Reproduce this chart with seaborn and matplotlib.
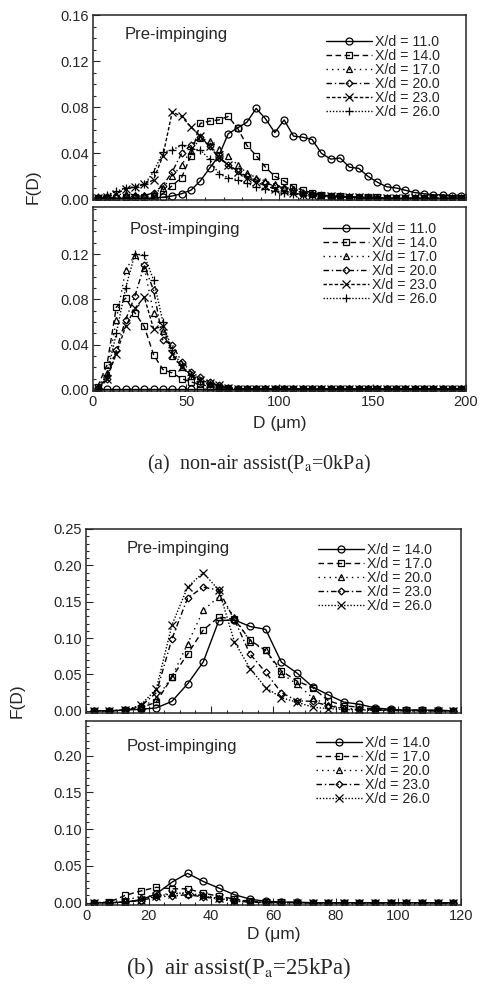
import numpy as np
import pandas as pd
import matplotlib
matplotlib.use("Agg")
import matplotlib.pyplot as plt
from matplotlib.ticker import MultipleLocator, FixedLocator, FormatStrFormatter
import seaborn as sns

sns.set_style("ticks")
plt.rcParams['font.family'] = ['Liberation Sans', 'DejaVu Sans']
plt.rcParams['mathtext.fontset'] = 'stix'

# ---------------- data: (a) non-air assist, D bins 2.5..197.5 um ----------------
D_a = [2.5, 7.5, 12.5, 17.5, 22.5, 27.5, 32.5, 37.5, 42.5, 47.5,
       52.5, 57.5, 62.5, 67.5, 72.5, 77.5, 82.5, 87.5, 92.5, 97.5,
       102.5, 107.5, 112.5, 117.5, 122.5, 127.5, 132.5, 137.5, 142.5, 147.5,
       152.5, 157.5, 162.5, 167.5, 172.5, 177.5, 182.5, 187.5, 192.5, 197.5]
labels_a = ["X/d = 11.0", "X/d = 14.0", "X/d = 17.0", "X/d = 20.0", "X/d = 23.0", "X/d = 26.0"]

pre_a_11 = [0.001, 0.001, 0.001, 0.001, 0.001, 0.001, 0.001, 0.002, 0.003, 0.005,
            0.008, 0.016, 0.027, 0.038, 0.057, 0.062, 0.067, 0.079, 0.070, 0.058,
            0.069, 0.055, 0.054, 0.052, 0.040, 0.035, 0.036, 0.028, 0.027, 0.020,
            0.015, 0.011, 0.010, 0.008, 0.006, 0.005, 0.004, 0.004, 0.003, 0.003]
pre_a_14 = [0.001, 0.001, 0.001, 0.002, 0.002, 0.002, 0.003, 0.005, 0.012, 0.019,
            0.038, 0.066, 0.068, 0.069, 0.072, 0.062, 0.047, 0.038, 0.028, 0.020,
            0.016, 0.011, 0.008, 0.006, 0.004, 0.003, 0.003, 0.002, 0.002, 0.002,
            0.002, 0.001, 0.001, 0.001, 0.001, 0.001, 0.001, 0.001, 0.001, 0.001]
pre_a_17 = [0.002, 0.003, 0.004, 0.005, 0.004, 0.004, 0.005, 0.010, 0.020, 0.030,
            0.042, 0.053, 0.051, 0.044, 0.038, 0.030, 0.023, 0.019, 0.016, 0.013,
            0.010, 0.008, 0.006, 0.005, 0.004, 0.003, 0.003, 0.002, 0.002, 0.002,
            0.001, 0.001, 0.001, 0.001, 0.001, 0.001, 0.001, 0.001, 0.001, 0.001]
pre_a_20 = [0.001, 0.001, 0.002, 0.002, 0.003, 0.003, 0.006, 0.012, 0.024, 0.040,
            0.047, 0.054, 0.046, 0.036, 0.030, 0.025, 0.020, 0.017, 0.014, 0.012,
            0.010, 0.008, 0.006, 0.005, 0.004, 0.003, 0.003, 0.002, 0.002, 0.002,
            0.001, 0.001, 0.001, 0.001, 0.001, 0.001, 0.001, 0.001, 0.001, 0.001]
pre_a_23 = [0.001, 0.002, 0.005, 0.009, 0.011, 0.013, 0.017, 0.038, 0.076, 0.072,
            0.063, 0.055, 0.046, 0.037, 0.030, 0.024, 0.019, 0.015, 0.012, 0.009,
            0.007, 0.006, 0.004, 0.004, 0.003, 0.003, 0.002, 0.002, 0.002, 0.001,
            0.001, 0.001, 0.001, 0.001, 0.001, 0.001, 0.001, 0.001, 0.001, 0.001]
pre_a_26 = [0.002, 0.004, 0.007, 0.010, 0.011, 0.013, 0.024, 0.041, 0.043, 0.047,
            0.044, 0.043, 0.035, 0.022, 0.019, 0.017, 0.014, 0.011, 0.009, 0.007,
            0.006, 0.005, 0.004, 0.003, 0.003, 0.002, 0.002, 0.002, 0.001, 0.001,
            0.001, 0.001, 0.001, 0.001, 0.001, 0.001, 0.001, 0.001, 0.001, 0.001]

post_a_11 = [0.001] * 40
post_a_14 = [0.003, 0.022, 0.073, 0.081, 0.068, 0.056, 0.031, 0.018, 0.015, 0.010,
             0.007, 0.005, 0.003, 0.002, 0.002, 0.001, 0.001, 0.001, 0.001, 0.001,
             0.001, 0.001, 0.001, 0.001, 0.001, 0.001, 0.001, 0.001, 0.001, 0.001,
             0.001, 0.001, 0.001, 0.001, 0.001, 0.001, 0.001, 0.001, 0.001, 0.001]
post_a_17 = [0.002, 0.015, 0.062, 0.106, 0.119, 0.108, 0.068, 0.052, 0.030, 0.020,
             0.012, 0.008, 0.005, 0.003, 0.002, 0.001, 0.001, 0.001, 0.001, 0.001,
             0.001, 0.001, 0.001, 0.001, 0.001, 0.001, 0.001, 0.001, 0.001, 0.001,
             0.001, 0.001, 0.001, 0.001, 0.001, 0.001, 0.001, 0.001, 0.001, 0.001]
post_a_20 = [0.002, 0.010, 0.035, 0.062, 0.083, 0.110, 0.088, 0.044, 0.040, 0.025,
             0.016, 0.011, 0.007, 0.004, 0.002, 0.001, 0.001, 0.001, 0.001, 0.001,
             0.001, 0.001, 0.001, 0.001, 0.001, 0.001, 0.001, 0.001, 0.001, 0.001,
             0.001, 0.001, 0.001, 0.001, 0.001, 0.001, 0.001, 0.001, 0.001, 0.001]
post_a_23 = [0.002, 0.010, 0.032, 0.056, 0.072, 0.082, 0.054, 0.056, 0.032, 0.020,
             0.013, 0.009, 0.006, 0.004, 0.002, 0.001, 0.001, 0.001, 0.001, 0.001,
             0.001, 0.001, 0.001, 0.001, 0.001, 0.001, 0.001, 0.001, 0.001, 0.001,
             0.001, 0.001, 0.001, 0.001, 0.001, 0.001, 0.001, 0.001, 0.001, 0.001]
post_a_26 = [0.002, 0.013, 0.050, 0.090, 0.120, 0.119, 0.097, 0.060, 0.035, 0.022,
             0.013, 0.008, 0.005, 0.003, 0.002, 0.001, 0.001, 0.001, 0.001, 0.001,
             0.001, 0.001, 0.001, 0.001, 0.001, 0.001, 0.001, 0.001, 0.001, 0.001,
             0.001, 0.001, 0.001, 0.001, 0.001, 0.001, 0.001, 0.001, 0.001, 0.001]

# ---------------- data: (b) air assist, D bins 2.5..117.5 um ----------------
D_b = [2.5, 7.5, 12.5, 17.5, 22.5, 27.5, 32.5, 37.5, 42.5, 47.5, 52.5, 57.5,
       62.5, 67.5, 72.5, 77.5, 82.5, 87.5, 92.5, 97.5, 102.5, 107.5, 112.5, 117.5]
labels_b = ["X/d = 14.0", "X/d = 17.0", "X/d = 20.0", "X/d = 23.0", "X/d = 26.0"]

pre_b_14 = [0.000, 0.000, 0.001, 0.002, 0.004, 0.013, 0.037, 0.067, 0.124, 0.125, 0.116, 0.112,
            0.067, 0.052, 0.033, 0.022, 0.012, 0.009, 0.004, 0.002, 0.001, 0.001, 0.001, 0.000]
pre_b_17 = [0.000, 0.000, 0.001, 0.004, 0.012, 0.046, 0.078, 0.111, 0.129, 0.126, 0.097, 0.083,
            0.055, 0.041, 0.032, 0.014, 0.007, 0.005, 0.002, 0.001, 0.001, 0.001, 0.000, 0.000]
pre_b_20 = [0.000, 0.000, 0.001, 0.005, 0.016, 0.047, 0.092, 0.138, 0.157, 0.129, 0.095, 0.083,
            0.051, 0.037, 0.018, 0.008, 0.004, 0.002, 0.001, 0.001, 0.000, 0.000, 0.000, 0.000]
pre_b_23 = [0.000, 0.000, 0.001, 0.006, 0.025, 0.099, 0.155, 0.170, 0.166, 0.125, 0.078, 0.053,
            0.025, 0.014, 0.013, 0.007, 0.003, 0.002, 0.001, 0.001, 0.000, 0.000, 0.000, 0.000]
pre_b_26 = [0.000, 0.000, 0.001, 0.008, 0.030, 0.118, 0.170, 0.190, 0.166, 0.095, 0.058, 0.032,
            0.018, 0.012, 0.005, 0.003, 0.002, 0.001, 0.001, 0.000, 0.000, 0.000, 0.000, 0.000]

post_b_14 = [0.000, 0.000, 0.001, 0.004, 0.012, 0.028, 0.040, 0.029, 0.020, 0.011, 0.005, 0.002,
             0.001, 0.001, 0.000, 0.000, 0.000, 0.000, 0.000, 0.000, 0.000, 0.000, 0.000, 0.000]
post_b_17 = [0.000, 0.001, 0.010, 0.016, 0.021, 0.019, 0.019, 0.013, 0.009, 0.005, 0.002, 0.001,
             0.001, 0.000, 0.000, 0.000, 0.000, 0.000, 0.000, 0.000, 0.000, 0.000, 0.000, 0.000]
post_b_20 = [0.000, 0.001, 0.004, 0.008, 0.010, 0.013, 0.012, 0.010, 0.007, 0.004, 0.002, 0.001,
             0.000, 0.000, 0.000, 0.000, 0.000, 0.000, 0.000, 0.000, 0.000, 0.000, 0.000, 0.000]
post_b_23 = [0.000, 0.000, 0.001, 0.003, 0.008, 0.009, 0.011, 0.008, 0.005, 0.002, 0.001, 0.000,
             0.000, 0.000, 0.000, 0.000, 0.000, 0.000, 0.000, 0.000, 0.000, 0.000, 0.000, 0.000]
post_b_26 = [0.000, 0.000, 0.001, 0.004, 0.009, 0.012, 0.014, 0.009, 0.006, 0.003, 0.001, 0.000,
             0.000, 0.000, 0.000, 0.000, 0.000, 0.000, 0.000, 0.000, 0.000, 0.000, 0.000, 0.000]

# ---------------- styles ----------------
styles_a = [("o", "-", 5.0), ("s", (0, (4, 2.5)), 5.0), ("^", (0, (1, 3)), 5.0),
            ("D", (0, (4, 2, 1, 2)), 3.5), ("x", (0, (2.5, 1.5)), 5.5), ("+", (0, (1, 1.3)), 6.0)]
styles_b = [("o", "-", 5.0), ("s", (0, (4, 2.5)), 5.0), ("^", (0, (1, 3)), 5.0),
            ("D", (0, (4, 2, 1, 2)), 3.5), ("x", (0, (1, 1.3)), 5.5)]

fig = plt.figure(figsize=(4.81, 9.84), dpi=100)

TICK_FS = 10.5
LEG_FS = 10.2
TITLE_FS = 12
LABEL_FS = 12.5
CAP_FS = 14.5


def draw(ax, D, series, labels, styles, anchor):
    for y, lab, (mk, ls, ms) in zip(series, labels, styles):
        df = pd.DataFrame({"D": D, "F": y})
        sns.lineplot(data=df, x="D", y="F", ax=ax, color="black", linewidth=1.0,
                     linestyle=ls, marker=mk, markersize=ms, markerfacecolor="none",
                     markeredgecolor="black", markeredgewidth=0.9, label=lab,
                     estimator=None, sort=False)
    ax.set_xlabel("")
    ax.set_ylabel("")
    for s in ax.spines.values():
        s.set_linewidth(1.1)
    ax.tick_params(direction="in", which="both", top=False, right=False,
                   labelsize=TICK_FS, width=0.8, pad=3)
    ax.tick_params(which="major", length=5)
    ax.tick_params(which="minor", length=2.5)
    ax.legend(loc="upper right", bbox_to_anchor=anchor, frameon=False,
              fontsize=LEG_FS, handlelength=3.2, handletextpad=0.2,
              labelspacing=0.0, borderpad=0.0)


# (a) top
ax1 = fig.add_axes([0.1933, 0.7967, 0.7755, 0.188])
draw(ax1, D_a, [pre_a_11, pre_a_14, pre_a_17, pre_a_20, pre_a_23, pre_a_26], labels_a, styles_a,
     (0.948, 0.93))
ax1.set_xlim(0, 200)
ax1.set_ylim(-0.0005, 0.16)
ax1.yaxis.set_major_locator(FixedLocator([0.0, 0.04, 0.08, 0.12, 0.16]))
ax1.yaxis.set_minor_locator(MultipleLocator(0.01))
ax1.yaxis.set_major_formatter(FormatStrFormatter("%.2f"))
ax1.xaxis.set_major_locator(MultipleLocator(50))
ax1.xaxis.set_minor_locator(MultipleLocator(10))
ax1.tick_params(labelbottom=False)
ax1.text(0.086, 0.895, "Pre-impinging", transform=ax1.transAxes, fontsize=TITLE_FS, va="center")

# (a) bottom
ax2 = fig.add_axes([0.1933, 0.6026, 0.7755, 0.187])
draw(ax2, D_a, [post_a_11, post_a_14, post_a_17, post_a_20, post_a_23, post_a_26], labels_a, styles_a,
     (0.94, 0.955))
ax2.set_xlim(0, 200)
ax2.set_ylim(-0.001, 0.1615)
ax2.yaxis.set_major_locator(FixedLocator([0.0, 0.04, 0.08, 0.12]))
ax2.yaxis.set_minor_locator(MultipleLocator(0.01))
ax2.yaxis.set_major_formatter(FormatStrFormatter("%.2f"))
ax2.xaxis.set_major_locator(MultipleLocator(50))
ax2.xaxis.set_minor_locator(MultipleLocator(10))
ax2.text(0.097, 0.876, "Post-impinging", transform=ax2.transAxes, fontsize=TITLE_FS, va="center")
ax2.set_xlabel("D (\u03bcm)", fontsize=LABEL_FS, labelpad=5)

fig.text(33 / 481, 1 - 187 / 984, "F(D)", rotation=90, fontsize=LABEL_FS, ha="center", va="center")
fig.text(259 / 481, 1 - 464 / 984, r"(a)  non-air assist(P$_\mathrm{a}$=0kPa)",
         fontsize=CAP_FS, ha="center", va="center", family=["Liberation Serif", "DejaVu Serif"])

# (b) top
ax3 = fig.add_axes([0.1788, 0.2754, 0.7796, 0.187])
draw(ax3, D_b, [pre_b_14, pre_b_17, pre_b_20, pre_b_23, pre_b_26], labels_b, styles_b,
     (0.94, 0.965))
ax3.set_xlim(0, 120)
ax3.set_ylim(-0.003, 0.25)
ax3.yaxis.set_major_locator(MultipleLocator(0.05))
ax3.yaxis.set_minor_locator(MultipleLocator(0.01))
ax3.yaxis.set_major_formatter(FormatStrFormatter("%.2f"))
ax3.xaxis.set_major_locator(MultipleLocator(20))
ax3.xaxis.set_minor_locator(MultipleLocator(5))
ax3.tick_params(labelbottom=False)
ax3.text(0.107, 0.893, "Pre-impinging", transform=ax3.transAxes, fontsize=TITLE_FS, va="center")

# (b) bottom
ax4 = fig.add_axes([0.1788, 0.0803, 0.7796, 0.187])
draw(ax4, D_b, [post_b_14, post_b_17, post_b_20, post_b_23, post_b_26], labels_b, styles_b,
     (0.935, 0.955))
ax4.set_xlim(0, 120)
ax4.set_ylim(-0.003, 0.247)
ax4.yaxis.set_major_locator(FixedLocator([0.0, 0.05, 0.10, 0.15, 0.20]))
ax4.yaxis.set_minor_locator(MultipleLocator(0.01))
ax4.yaxis.set_major_formatter(FormatStrFormatter("%.2f"))
ax4.xaxis.set_major_locator(MultipleLocator(20))
ax4.xaxis.set_minor_locator(MultipleLocator(5))
ax4.text(0.107, 0.862, "Post-impinging", transform=ax4.transAxes, fontsize=TITLE_FS, va="center")
ax4.set_xlabel("D (\u03bcm)", fontsize=LABEL_FS, labelpad=3)

fig.text(17 / 481, 1 - 701 / 984, "F(D)", rotation=90, fontsize=LABEL_FS, ha="center", va="center")
fig.text(239 / 481, 1 - 968 / 984, r"(b)  air assist(P$_\mathrm{a}$=25kPa)",
         fontsize=16.5, ha="center", va="center", family=["Liberation Serif", "DejaVu Serif"])

fig.savefig("out.png", dpi=100)
